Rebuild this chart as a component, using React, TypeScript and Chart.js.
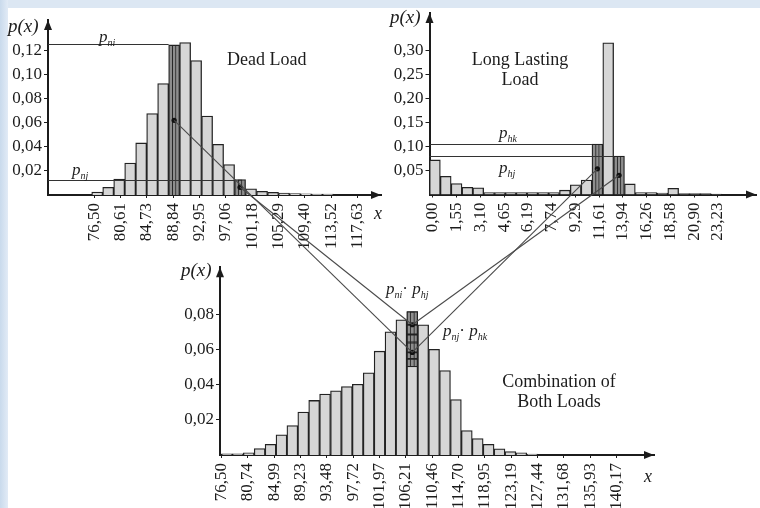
import React, { useEffect, useRef } from 'react';
import { Chart, registerables } from 'chart.js';

Chart.register(...registerables);

const FONT = "'Liberation Serif', 'Times New Roman', serif";
const LIGHT = '#d6d6d6';
const DARK = '#8e8e8e';
const EDGE = '#222';
const INK = '#1c1c1c';

// ---------------- Dead load ----------------
const deadBinStart = 76.14;
const deadBinWidth = 1.714;
const deadValues = [0.0025, 0.0064, 0.0132, 0.0265, 0.0432, 0.0675, 0.0925, 0.1245, 0.1265, 0.1115, 0.0655, 0.042, 0.0252, 0.0128, 0.0052, 0.003, 0.0022, 0.0016, 0.0012, 0.001, 0.0008, 0.0008];
const deadHighlight = [7, 13];
const deadDotBins = [7, 13];
const deadDotValues = [0.062, 0.0064];
const deadRefBins = [7, 13];
const deadRefValues = [0.125, 0.0128];
const deadXTicks = [76.5, 80.61, 84.73, 88.84, 92.95, 97.06, 101.18, 105.29, 109.4, 113.52, 117.63];
const deadYTicks = [0.02, 0.04, 0.06, 0.08, 0.1, 0.12];

// ---------------- Long lasting load ----------------
const longTickLabels = ['0,00', '1,55', '3,10', '4,65', '6,19', '7,74', '9,29', '11,61', '13,94', '16,26', '18,58', '20,90', '23,23'];
const longTickPositions = [0, 1, 2, 3, 4, 5, 6, 7, 8, 9, 10, 11, 12];
const longBinStart = -0.146;
const longBinWidth = 0.456;
const longValues = [0.072, 0.038, 0.023, 0.015, 0.014, 0.004, 0.004, 0.004, 0.004, 0.004, 0.004, 0.004, 0.009, 0.02, 0.03, 0.105, 0.316, 0.08, 0.022, 0.004, 0.004, 0.003, 0.013, 0.002, 0.002, 0.002, 0.001];
const longHighlight = [15, 17];
const longDotBins = [15, 17];
const longDotValues = [0.0535, 0.04];
const longRefBins = [15, 17];
const longRefValues = [0.105, 0.08];
const longYTicks = [0.05, 0.1, 0.15, 0.2, 0.25, 0.3];

// ---------------- Combination ----------------
const combBinStart = 76.5;
const combBinWidth = 1.757;
const combValues = [0.0006, 0.0006, 0.0012, 0.0037, 0.0061, 0.0115, 0.0167, 0.0244, 0.031, 0.0346, 0.0365, 0.0389, 0.0402, 0.0467, 0.059, 0.07, 0.0768, 0.0815, 0.074, 0.06, 0.048, 0.0315, 0.0139, 0.0093, 0.0061, 0.0035, 0.002, 0.0012, 0.0005];
const combHighlight = [17];
const combSegmentEdges = [0.05, 0.0546, 0.0583, 0.0639, 0.0685, 0.074, 0.0815];
const combDotBins = [17, 17];
const combDotValues = [0.074, 0.0583];
const combXTicks = [76.5, 80.74, 84.99, 89.23, 93.48, 97.72, 101.97, 106.21, 110.46, 114.7, 118.95, 123.19, 127.44, 131.68, 135.93, 140.17];
const combYTicks = [0.02, 0.04, 0.06, 0.08];

// links: source chart, dot index in source, target value on combination bar
const linkSource = ['dead', 'dead', 'long', 'long'];
const linkDot = [0, 1, 0, 1];
const linkTarget = [0.0583, 0.074, 0.0583, 0.074];

const comma = (v: number) => v.toFixed(2).replace('.', ',');

interface Spec {
  binStart: number;
  binWidth: number;
  values: number[];
  highlight: number[];
  segments?: number[];
  dotBins: number[];
  dotValues: number[];
  refBins: number[];
  refValues: number[];
  xTicks: number[];
  xLabel: (v: number) => string;
  yTicks: number[];
  xMin: number;
  xMax: number;
  yMax: number;
  pad: { left: number; top: number; right: number; bottom: number };
  yWidth: number;
  xHeight: number;
}

function makeChart(canvas: HTMLCanvasElement, s: Spec) {
  const center = (i: number) => s.binStart + (i + 0.5) * s.binWidth;
  const bars = s.values.map((v, i) => ({ x: center(i), y: v }));
  const colors = s.values.map((_, i) => (s.highlight.includes(i) && !s.segments ? DARK : LIGHT));
  const datasets: any[] = [
    {
      type: 'bar',
      data: bars,
      backgroundColor: colors,
      borderColor: EDGE,
      borderWidth: 1.3,
      grouped: false,
      barPercentage: 1,
      categoryPercentage: 1,
      order: 4,
    },
  ];
  if (s.segments) {
    const segs: any[] = [];
    for (let k = 0; k < s.segments.length - 1; k++) {
      segs.push({ x: center(s.highlight[0]), y: [s.segments[k], s.segments[k + 1]] });
    }
    datasets.push({
      type: 'bar',
      data: segs,
      backgroundColor: DARK,
      borderColor: EDGE,
      borderWidth: 1.3,
      borderSkipped: false,
      grouped: false,
      barPercentage: 1,
      categoryPercentage: 1,
      order: 3,
    });
    datasets.push({
      type: 'bar',
      data: [{ x: center(s.highlight[0]), y: [s.segments[0], s.segments[s.segments.length - 1]] }],
      backgroundColor: 'rgba(0,0,0,0)',
      borderColor: EDGE,
      borderWidth: 1,
      borderSkipped: false,
      grouped: false,
      barPercentage: 0.45,
      categoryPercentage: 1,
      order: 2,
    });
  } else {
    datasets.push({
      type: 'bar',
      data: s.highlight.map((i) => ({ x: center(i), y: s.values[i] })),
      backgroundColor: 'rgba(0,0,0,0)',
      borderColor: EDGE,
      borderWidth: 1,
      grouped: false,
      barPercentage: 0.4,
      categoryPercentage: 1,
      order: 2,
    });
  }
  datasets.push({
    type: 'scatter',
    data: s.dotBins.map((b, i) => ({ x: center(b), y: s.dotValues[i] })),
    pointRadius: 2.6,
    pointBackgroundColor: '#111',
    pointBorderWidth: 0,
    order: 0,
  });

  const decor = {
    id: 'decor',
    afterDraw(chart: any) {
      const { ctx, chartArea: a, scales } = chart;
      const x = scales.x;
      const y = scales.y;
      ctx.save();
      ctx.strokeStyle = '#333';
      ctx.lineWidth = 1.1;
      s.refBins.forEach((b: number, i: number) => {
        const py = Math.round(y.getPixelForValue(s.refValues[i])) + 0.5;
        const px = x.getPixelForValue(s.binStart + b * s.binWidth);
        ctx.beginPath();
        ctx.moveTo(a.left, py);
        ctx.lineTo(px, py);
        ctx.stroke();
      });
      ctx.fillStyle = INK;
      ctx.beginPath();
      ctx.moveTo(a.left, a.top);
      ctx.lineTo(a.left - 4, a.top + 10);
      ctx.lineTo(a.left + 4, a.top + 10);
      ctx.closePath();
      ctx.fill();
      ctx.beginPath();
      ctx.moveTo(a.right, a.bottom);
      ctx.lineTo(a.right - 10, a.bottom - 4);
      ctx.lineTo(a.right - 10, a.bottom + 4);
      ctx.closePath();
      ctx.fill();
      ctx.restore();
    },
  };

  const tickFont = { family: FONT, size: 17 };
  return new Chart(canvas, {
    type: 'bar',
    data: { datasets },
    plugins: [decor],
    options: {
      responsive: false,
      animation: false,
      devicePixelRatio: 1,
      layout: { padding: s.pad },
      plugins: { legend: { display: false }, tooltip: { enabled: false } },
      scales: {
        x: {
          type: 'linear',
          min: s.xMin,
          max: s.xMax,
          offset: false,
          grid: { display: true, drawOnChartArea: false, drawTicks: true, tickLength: 3, color: INK, offset: false },
          border: { display: true, color: INK, width: 2 },
          afterBuildTicks: (sc: any) => {
            sc.ticks = s.xTicks.map((v) => ({ value: v }));
          },
          afterFit: (sc: any) => {
            sc.height = s.xHeight;
          },
          ticks: {
            autoSkip: false,
            minRotation: 90,
            maxRotation: 90,
            padding: 5,
            color: INK,
            font: tickFont,
            callback: (v: any) => s.xLabel(Number(v)),
          },
        },
        y: {
          type: 'linear',
          min: 0,
          max: s.yMax,
          grid: { display: true, drawOnChartArea: false, drawTicks: true, tickLength: 4, color: INK },
          border: { display: true, color: INK, width: 2 },
          afterBuildTicks: (sc: any) => {
            sc.ticks = s.yTicks.map((v) => ({ value: v }));
          },
          afterFit: (sc: any) => {
            sc.width = s.yWidth;
          },
          ticks: {
            padding: 2,
            color: INK,
            font: tickFont,
            callback: (v: any) => comma(Number(v)),
          },
        },
      },
    } as any,
  });
}

const DEAD_BOX = { left: 0, top: 0, width: 392, height: 252 };
const LONG_BOX = { left: 382, top: 0, width: 378, height: 252 };
const COMB_BOX = { left: 140, top: 255, width: 520, height: 253 };

const txt: React.CSSProperties = {
  position: 'absolute',
  fontFamily: FONT,
  color: INK,
  whiteSpace: 'nowrap',
  lineHeight: 1,
};

function P({ sub }: { sub: string }) {
  return (
    <span>
      <i>p</i>
      <sub style={{ fontSize: 10, fontStyle: 'italic', verticalAlign: 'sub' }}>{sub}</sub>
    </span>
  );
}

export default function App() {
  const deadRef = useRef<HTMLCanvasElement>(null);
  const longRef = useRef<HTMLCanvasElement>(null);
  const combRef = useRef<HTMLCanvasElement>(null);
  const overlayRef = useRef<HTMLCanvasElement>(null);

  useEffect(() => {
    const dead = makeChart(deadRef.current!, {
      binStart: deadBinStart,
      binWidth: deadBinWidth,
      values: deadValues,
      highlight: deadHighlight,
      dotBins: deadDotBins,
      dotValues: deadDotValues,
      refBins: deadRefBins,
      refValues: deadRefValues,
      xTicks: deadXTicks,
      xLabel: comma,
      yTicks: deadYTicks,
      xMin: 69.32,
      xMax: 121.26,
      yMax: 0.1452,
      pad: { left: 0, top: 20, right: 11, bottom: 0 },
      yWidth: 48,
      xHeight: 57,
    });
    const long = makeChart(longRef.current!, {
      binStart: longBinStart,
      binWidth: longBinWidth,
      values: longValues,
      highlight: longHighlight,
      dotBins: longDotBins,
      dotValues: longDotValues,
      refBins: longRefBins,
      refValues: longRefValues,
      xTicks: longTickPositions,
      xLabel: (v: number) => longTickLabels[Math.round(v)] ?? '',
      yTicks: longYTicks,
      xMin: -0.146,
      xMax: 13.6,
      yMax: 0.378,
      pad: { left: 0, top: 13, right: 2, bottom: 0 },
      yWidth: 47.5,
      xHeight: 57.5,
    });
    const comb = makeChart(combRef.current!, {
      binStart: combBinStart,
      binWidth: combBinWidth,
      values: combValues,
      highlight: combHighlight,
      segments: combSegmentEdges,
      dotBins: combDotBins,
      dotValues: combDotValues,
      refBins: [],
      refValues: [],
      xTicks: combXTicks,
      xLabel: comma,
      yTicks: combYTicks,
      xMin: 76.26,
      xMax: 146.2,
      yMax: 0.1067,
      pad: { left: 0, top: 8, right: 6, bottom: 0 },
      yWidth: 80,
      xHeight: 53,
    });

    // connecting lines drawn from the charts' own scales
    const ov = overlayRef.current!;
    const ctx = ov.getContext('2d')!;
    ctx.clearRect(0, 0, ov.width, ov.height);
    const srcs: Record<string, any> = {
      dead: { chart: dead, box: DEAD_BOX, start: deadBinStart, w: deadBinWidth, bins: deadDotBins, vals: deadDotValues },
      long: { chart: long, box: LONG_BOX, start: longBinStart, w: longBinWidth, bins: longDotBins, vals: longDotValues },
    };
    const cx = combBinStart + (combHighlight[0] + 0.5) * combBinWidth;
    ctx.strokeStyle = '#4a4a4a';
    ctx.lineWidth = 1.1;
    linkSource.forEach((name, i) => {
      const s = srcs[name];
      const d = linkDot[i];
      const x1 = s.box.left + s.chart.scales.x.getPixelForValue(s.start + (s.bins[d] + 0.5) * s.w);
      const y1 = s.box.top + s.chart.scales.y.getPixelForValue(s.vals[d]);
      const x2 = COMB_BOX.left + comb.scales.x.getPixelForValue(cx);
      const y2 = COMB_BOX.top + comb.scales.y.getPixelForValue(linkTarget[i]);
      ctx.beginPath();
      ctx.moveTo(x1, y1);
      ctx.lineTo(x2, y2);
      ctx.stroke();
    });

    return () => {
      dead.destroy();
      long.destroy();
      comb.destroy();
    };
  }, []);

  const cv = (b: { left: number; top: number; width: number; height: number }): React.CSSProperties => ({
    position: 'absolute',
    left: b.left,
    top: b.top,
    width: b.width,
    height: b.height,
  });

  return (
    <div style={{ position: 'fixed', left: 0, top: 0, width: 760, height: 508, background: '#ffffff', overflow: 'hidden' }}>
      <div style={{ position: 'absolute', left: 0, top: 0, width: 760, height: 8, background: '#dce7f3' }} />
      <div style={{ position: 'absolute', left: 0, top: 0, width: 8, height: 508, background: 'linear-gradient(to right, #c9daec, #e2ebf6)' }} />
      <canvas ref={deadRef} width={DEAD_BOX.width} height={DEAD_BOX.height} style={cv(DEAD_BOX)} />
      <canvas ref={longRef} width={LONG_BOX.width} height={LONG_BOX.height} style={cv(LONG_BOX)} />
      <canvas ref={combRef} width={COMB_BOX.width} height={COMB_BOX.height} style={cv(COMB_BOX)} />
      <canvas ref={overlayRef} width={760} height={508} style={{ position: 'absolute', left: 0, top: 0, width: 760, height: 508, pointerEvents: 'none' }} />

      <div style={{ ...txt, left: 8, top: 16, fontSize: 19, fontStyle: 'italic' }}>p(x)</div>
      <div style={{ ...txt, left: 374, top: 204, fontSize: 18, fontStyle: 'italic' }}>x</div>
      <div style={{ ...txt, left: 390, top: 7, fontSize: 19, fontStyle: 'italic' }}>p(x)</div>
      <div style={{ ...txt, left: 181, top: 260, fontSize: 19, fontStyle: 'italic' }}>p(x)</div>
      <div style={{ ...txt, left: 644, top: 467, fontSize: 18, fontStyle: 'italic' }}>x</div>

      <div style={{ ...txt, left: 227, top: 50, fontSize: 18 }}>Dead Load</div>
      <div style={{ ...txt, left: 460, top: 49, width: 120, fontSize: 18, textAlign: 'center', lineHeight: '20px' }}>
        Long Lasting
        <br />
        Load
      </div>
      <div style={{ ...txt, left: 499, top: 371, width: 120, fontSize: 18, textAlign: 'center', lineHeight: '20px' }}>
        Combination of
        <br />
        Both Loads
      </div>

      <div style={{ ...txt, left: 99, top: 28, fontSize: 17 }}><P sub="ni" /></div>
      <div style={{ ...txt, left: 72, top: 161, fontSize: 17 }}><P sub="nj" /></div>
      <div style={{ ...txt, left: 499, top: 124, fontSize: 17 }}><P sub="hk" /></div>
      <div style={{ ...txt, left: 499, top: 159, fontSize: 17 }}><P sub="hj" /></div>
      <div style={{ ...txt, left: 386, top: 280, fontSize: 17 }}>
        <P sub="ni" />· <P sub="hj" />
      </div>
      <div style={{ ...txt, left: 443, top: 322, fontSize: 17 }}>
        <P sub="nj" />· <P sub="hk" />
      </div>
    </div>
  );
}
